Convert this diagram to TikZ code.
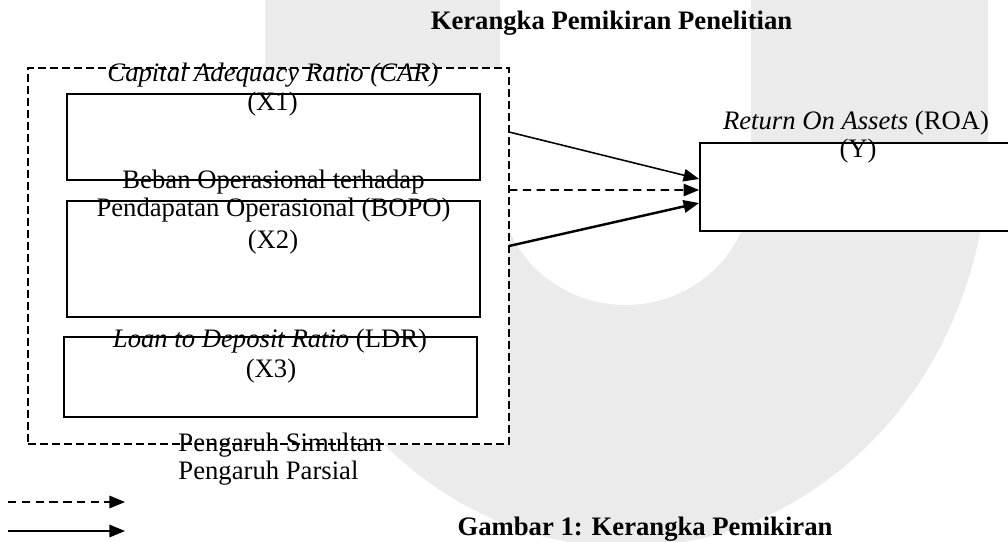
\documentclass[tikz,border=0pt]{standalone}
\usepackage{fontspec}
\setmainfont{Liberation Serif}
\usetikzlibrary{arrows.meta}
\definecolor{watermark}{gray}{0.92}

\begin{document}
\begin{tikzpicture}[x=0.45pt, y=-0.45pt,
    every node/.style={font=\fontsize{12}{14}\selectfont, inner sep=0pt},
    box/.style={draw, fill=white, line width=0.8pt},
    txt/.style={anchor=base},
    parsial/.style={line width=0.7pt, -{Triangle[length=7pt, width=5.6pt]}},
    simultan/.style={line width=0.7pt, dash pattern=on 3.8pt off 2.4pt, -{Triangle[length=7pt, width=5.6pt]}}]
    \useasboundingbox (0,0) rectangle (1008,541);
    \fill[white] (0,0) rectangle (1008,541);

    \fill[watermark] (265,-10) -- (265,149) arc[start angle=180, end angle=0, x radius=361.5, y radius=398]
        -- (988,-10) -- (751,-10) -- (751,185) arc[start angle=0, end angle=180, x radius=125.5, y radius=120]
        -- (500,-10) -- cycle;

    \node[box, line width=0.7pt, dash pattern=on 3.4pt off 2pt, minimum width=216.45pt, minimum height=169.2pt] (simul) at (268.5,256) {};
    \node[box, minimum width=185.85pt, minimum height=38.7pt] (x1) at (273.5,137) {};
    \node[box, minimum width=185.85pt, minimum height=52.2pt] (x2) at (273.5,259) {};
    \node[box, minimum width=185.85pt, minimum height=36pt] (x3) at (270.5,377) {};
    \node[box, minimum width=144pt, minimum height=39.6pt] (roa) at (860,187) {};

    \node[txt] (title) at (611.5,29) {\textbf{Kerangka Pemikiran Penelitian}};
    \node[txt] (car) at (273,81) {\textit{Capital Adequacy Ratio (CAR)}};
    \node[txt] (x1-id) at (272.5,110) {(X1)};
    \node[txt] (bopo-a) at (273.5,188) {Beban Operasional terhadap};
    \node[txt] (bopo-b) at (273.5,216) {Pendapatan Operasional (BOPO)};
    \node[txt] (x2-id) at (273,248) {(X2)};
    \node[txt] (ldr) at (270,347) {\textit{Loan to Deposit Ratio} (LDR)};
    \node[txt] (x3-id) at (271,377) {(X3)};
    \node[txt] (roa-name) at (856,129) {\textit{Return On Assets} (ROA)};
    \node[txt] (y-id) at (858,157) {(Y)};
    \node[txt, anchor=base west] (simultan-txt) at (178,451.5) {Pengaruh Simultan};
    \node[txt, anchor=base west] (parsial-txt) at (178,479) {Pengaruh Parsial};
    \node[txt] (caption) at (645,535) {\textbf{Gambar 1: Kerangka Pemikiran}};

    \coordinate (car-out) at (509,132);
    \coordinate (all-out) at (509,190);
    \coordinate (bopo-out) at (509,246);
    \draw[parsial] (car-out) -- ([yshift=3.6pt]roa.west);
    \draw[simultan] (all-out) -- ([yshift=-1.35pt]roa.west);
    \draw[parsial, line width=1.1pt] (bopo-out) -- ([yshift=-7.2pt]roa.west);

    \coordinate (key-s0) at (8,502);
    \coordinate (key-s1) at (125,502);
    \coordinate (key-p0) at (8,531);
    \coordinate (key-p1) at (125,531);
    \draw[simultan] (key-s0) -- (key-s1);
    \draw[parsial] (key-p0) -- (key-p1);

  \end{tikzpicture}
\end{document}
